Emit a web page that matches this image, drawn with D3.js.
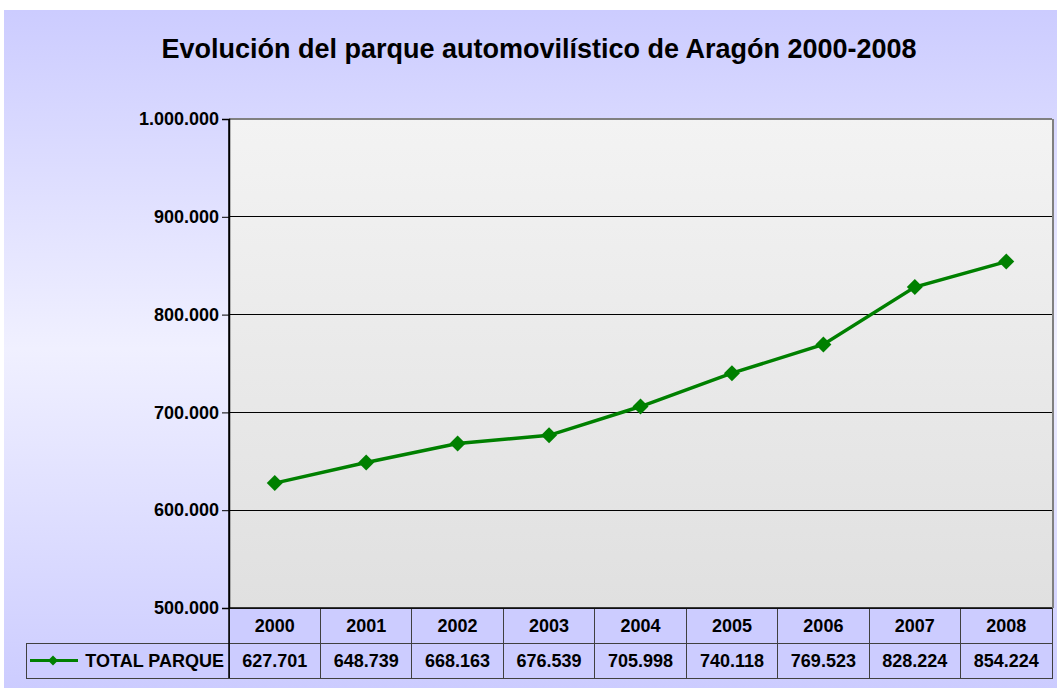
<!DOCTYPE html>
<html><head><meta charset="utf-8">
<script src="https://cdn.jsdelivr.net/npm/d3@7"></script>
<style>html,body{margin:0;padding:0;background:#fff;}svg{display:block;font-family:"Liberation Sans",Arial,sans-serif;}</style>
</head><body>
<script>
const years = ["2000","2001","2002","2003","2004","2005","2006","2007","2008"];
const totalParque = [627701, 648739, 668163, 676539, 705998, 740118, 769523, 828224, 854224];
const valueLabels = ["627.701","648.739","668.163","676.539","705.998","740.118","769.523","828.224","854.224"];
const yTicks = [500000, 600000, 700000, 800000, 900000, 1000000];
const seriesName = "TOTAL PARQUE";
const title = "Evolución del parque automovilístico de Aragón 2000-2008";

(function(){
const W = 1057, H = 688;
const FS = 18;
const svg = d3.select("body").append("svg").attr("width", W).attr("height", H);
const defs = svg.append("defs");
const bg = defs.append("linearGradient").attr("id","bg").attr("x1",0).attr("y1",0).attr("x2",0).attr("y2",1);
bg.append("stop").attr("offset","0%").attr("stop-color","#ccccff");
bg.append("stop").attr("offset","50%").attr("stop-color","#f0f0ff");
bg.append("stop").attr("offset","100%").attr("stop-color","#ccccff");
const pg = defs.append("linearGradient").attr("id","pg").attr("x1",0).attr("y1",0).attr("x2",0).attr("y2",1);
pg.append("stop").attr("offset","0%").attr("stop-color","#f3f3f3");
pg.append("stop").attr("offset","100%").attr("stop-color","#e0e0e0");

svg.append("rect").attr("x",4).attr("y",10).attr("width",W-4).attr("height",H-10).attr("fill","url(#bg)");

svg.append("text").attr("x",539).attr("y",58).attr("text-anchor","middle")
  .attr("font-size",27).attr("font-weight","bold").attr("fill","#000").text(title);

const pL = 229, pR = 1052, pT = 119, pB = 608;
const x = d3.scaleBand().domain(years).range([pL, pR]).padding(0);
const y = d3.scaleLinear().domain([500000, 1000000]).range([pB, pT]);

svg.append("rect").attr("x",pL).attr("y",pT).attr("width",pR-pL).attr("height",pB-pT).attr("fill","url(#pg)");

svg.append("g").selectAll("line").data(yTicks).join("line")
  .attr("x1",pL).attr("x2",pR).attr("y1",d=>y(d)).attr("y2",d=>y(d))
  .attr("stroke",d=>d===1000000?"#808080":"#000").attr("stroke-width",d=>d===1000000?2:1).attr("shape-rendering","crispEdges");
svg.append("line").attr("x1",pR+1).attr("x2",pR+1).attr("y1",pT).attr("y2",pB)
  .attr("stroke","#808080").attr("stroke-width",2).attr("shape-rendering","crispEdges");

const fmt = d => d3.format(",")(d).replace(/,/g,".");
const yAxis = d3.axisLeft(y).tickValues(yTicks).tickFormat(fmt).tickSize(7).tickPadding(3);
const ga = svg.append("g").attr("transform",`translate(${pL},0)`).call(yAxis);
ga.attr("font-size",FS).attr("font-family","'Liberation Sans',Arial,sans-serif");
ga.select(".domain").attr("stroke","#000").attr("stroke-width",1.5);
ga.selectAll(".tick line").attr("stroke","#000");
ga.selectAll(".tick text").attr("font-size",FS).attr("font-weight","bold").attr("fill","#000");

const rowH = 35;
const tbl = svg.append("g");
const r1 = pB, r2 = pB + rowH, r3 = pB + 2*rowH;
tbl.selectAll("rect.c1").data(years).join("rect").attr("class","c1")
  .attr("x",d=>x(d)).attr("y",r1).attr("width",x.bandwidth()).attr("height",rowH)
  .attr("fill","#ccccff").attr("stroke","#404040").attr("stroke-width",1).attr("shape-rendering","crispEdges");
tbl.selectAll("rect.c2").data(years).join("rect").attr("class","c2")
  .attr("x",d=>x(d)).attr("y",r2).attr("width",x.bandwidth()).attr("height",rowH)
  .attr("fill","#ccccff").attr("stroke","#404040").attr("stroke-width",1).attr("shape-rendering","crispEdges");
tbl.append("rect").attr("x",26).attr("y",r2).attr("width",pL-26).attr("height",rowH)
  .attr("fill","#ccccff").attr("stroke","#404040").attr("stroke-width",1).attr("shape-rendering","crispEdges");
svg.append("line").attr("x1",pL).attr("x2",pR).attr("y1",pB).attr("y2",pB).attr("stroke","#000").attr("stroke-width",1.5);
svg.append("line").attr("x1",pL).attr("x2",pL).attr("y1",pT).attr("y2",r3).attr("stroke","#000").attr("stroke-width",1.5);

tbl.selectAll("text.t1").data(years).join("text").attr("class","t1")
  .attr("x",d=>x(d)+x.bandwidth()/2).attr("y",r1+rowH/2+6.5).attr("text-anchor","middle")
  .attr("font-size",FS).attr("font-weight","bold").text(d=>d);
tbl.selectAll("text.t2").data(years).join("text").attr("class","t2")
  .attr("x",d=>x(d)+x.bandwidth()/2).attr("y",r2+rowH/2+6.5).attr("text-anchor","middle")
  .attr("font-size",FS).attr("font-weight","bold").text((d,i)=>valueLabels[i]);
const ly = r2 + rowH/2;
tbl.append("line").attr("x1",30).attr("x2",78).attr("y1",ly).attr("y2",ly).attr("stroke","#008000").attr("stroke-width",3);
tbl.append("path").attr("d","M0,-5L5,0L0,5L-5,0Z").attr("transform",`translate(53,${ly})`).attr("fill","#008000");
tbl.append("text").attr("x",224).attr("y",ly+6.5).attr("text-anchor","end").attr("font-size",FS).attr("font-weight","bold").text(seriesName);

const cx = d => x(d) + x.bandwidth()/2;
const line = d3.line().x((d,i)=>cx(years[i])).y(d=>y(d));
svg.append("path").datum(totalParque).attr("d",line).attr("fill","none").attr("stroke","#008000").attr("stroke-width",3.5);
svg.selectAll("path.m").data(totalParque).join("path").attr("class","m")
  .attr("d",`M0,-8L8,0L0,8L-8,0Z`)
  .attr("transform",(d,i)=>`translate(${cx(years[i])},${y(d)})`).attr("fill","#008000");
})();
</script>
</body></html>
